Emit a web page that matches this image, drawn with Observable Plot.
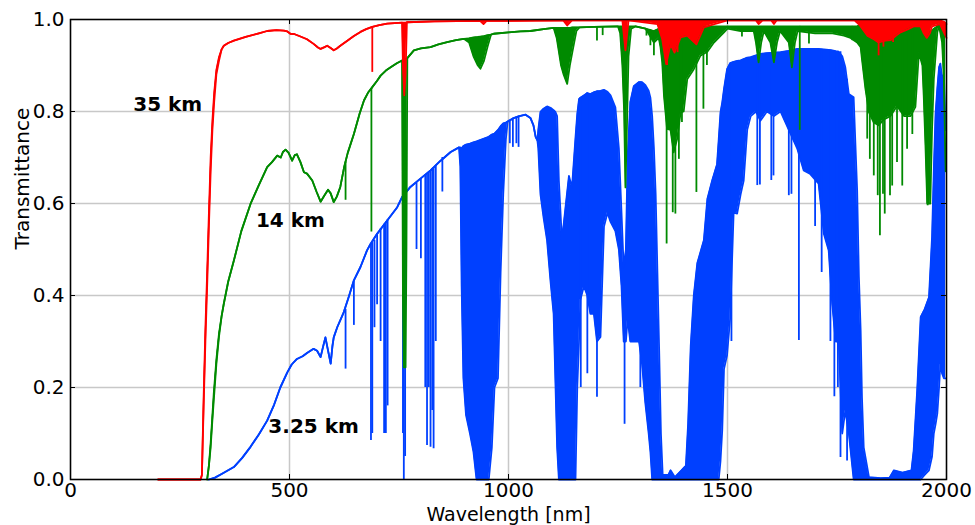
<!DOCTYPE html>
<html>
<head>
<meta charset="utf-8">
<script src="https://cdn.jsdelivr.net/npm/d3@7"></script>
<script src="https://cdn.jsdelivr.net/npm/@observablehq/plot@0.6"></script>
<style>
  html, body { margin: 0; padding: 0; background: #fff; }
</style>
</head>
<body>
<div id="chart"></div>
<script>
// ---- data: [wavelength nm, upper envelope, lower envelope] ----
const km35 = [
  [200,0,0],[297,0,0],[300,0.01,0.01],[304,0.18,0.16],[308,0.33,0.3],[312,0.45,0.42],[316,0.58,0.55],
  [320,0.70,0.67],[324,0.78,0.76],[328,0.84,0.82],[333,0.89,0.88],[339,0.918,0.91],[345,0.935,0.935],
  [350,0.943,0.943],[360,0.949,0.949],[373,0.954,0.954],[400,0.962,0.962],[430,0.970,0.970],
  [449,0.975,0.975],[470,0.977,0.977],[487,0.976,0.976],[495,0.974,0.974],[502,0.969,0.969],
  [512,0.968,0.968],[525,0.963,0.963],[540,0.957,0.957],[555,0.947,0.947],[565,0.939,0.939],
  [571,0.936,0.936],[580,0.940,0.940],[586,0.943,0.943],[594,0.938,0.938],[601,0.933,0.933],
  [608,0.937,0.937],[616,0.943,0.943],[632,0.954,0.954],[647,0.964,0.964],[662,0.973,0.973],
  [675,0.979,0.979],[689,0.984,0.984],[705,0.988,0.988],[723,0.991,0.991],[757,0.993,0.993],
  [759,0.993,0.90],[762,0.993,0.835],[765,0.993,0.88],[768,0.994,0.994],[830,0.996,0.996],
  [935,0.997,0.997],[943,0.997,0.99],[950,0.997,0.997],[1125,0.998,0.998],[1134,0.998,0.987],
  [1145,0.998,0.998],[1260,0.998,0.998],[1264,0.998,0.96],[1267,0.998,0.933],[1270,0.998,0.96],
  [1274,0.998,0.998],[1340,0.998,0.99],[1351,0.998,0.957],[1360,0.998,0.903],[1370,0.998,0.946],
  [1379,0.998,0.928],[1393,0.998,0.961],[1408,0.998,0.965],[1429,0.998,0.946],[1446,0.998,0.983],
  [1470,0.998,0.99],[1500,0.998,0.998],[1565,0.998,0.998],[1571,0.998,0.99],[1580,0.998,0.998],
  [1600,0.998,0.998],[1606,0.998,0.99],[1612,0.998,0.998],[1790,0.998,0.998],[1796,0.998,0.993],
  [1804,0.998,0.985],[1819,0.998,0.965],[1834,0.998,0.957],[1845,0.998,0.95],[1860,0.998,0.954],
  [1872,0.998,0.955],[1885,0.998,0.965],[1895,0.998,0.972],[1910,0.998,0.978],[1925,0.998,0.985],
  [1941,0.998,0.985],[1948,0.998,0.97],[1955,0.998,0.96],[1962,0.998,0.97],[1967,0.998,0.985],
  [1985,0.998,0.99],[1995,0.995,0.97],[2000,0.99,0.96]
];
const spikes35 = [
  [689,0.984,0.885],[1362,0.998,0.90],[1386,0.998,0.928],[1845,0.998,0.921],[1856,0.998,0.94],
  [1878,0.998,0.95]
];

const km14 = [
  [312,0,0],[316,0.03,0.03],[320,0.08,0.07],[324,0.14,0.13],[327,0.186,0.17],[333,0.26,0.25],
  [339,0.317,0.31],[345,0.355,0.355],[350,0.382,0.382],[360,0.43,0.43],[373,0.476,0.476],
  [390,0.54,0.54],[411,0.599,0.599],[430,0.64,0.64],[449,0.679,0.679],[460,0.69,0.69],
  [472,0.704,0.704],[480,0.70,0.70],[485,0.712,0.712],[491,0.717,0.717],[498,0.71,0.71],
  [506,0.693,0.693],[512,0.705,0.705],[517,0.707,0.707],[525,0.69,0.69],[533,0.668,0.668],
  [540,0.665,0.665],[552,0.65,0.65],[562,0.625,0.625],[571,0.604,0.604],[580,0.618,0.618],
  [588,0.63,0.63],[594,0.622,0.622],[601,0.603,0.603],[608,0.615,0.615],[616,0.636,0.636],
  [625,0.68,0.68],[633,0.71,0.71],[647,0.751,0.751],[660,0.795,0.795],[670,0.824,0.824],
  [680,0.842,0.842],[689,0.853,0.853],[700,0.867,0.867],[708,0.878,0.878],[720,0.889,0.889],
  [731,0.896,0.896],[745,0.905,0.905],[757,0.911,0.911],[759,0.912,0.40],[761,0.913,0.244],
  [765,0.914,0.244],[767,0.915,0.50],[769,0.916,0.916],[784,0.933,0.933],[800,0.937,0.937],
  [822,0.94,0.94],[840,0.946,0.946],[860,0.951,0.951],[880,0.955,0.955],[898,0.958,0.958],
  [910,0.959,0.95],[920,0.961,0.92],[930,0.962,0.90],[936,0.963,0.893],[944,0.964,0.91],
  [952,0.966,0.94],[960,0.967,0.967],[966,0.969,0.969],[1000,0.972,0.972],[1027,0.974,0.974],
  [1050,0.975,0.975],[1080,0.979,0.979],[1103,0.982,0.982],[1110,0.982,0.96],[1115,0.982,0.93],
  [1120,0.982,0.90],[1126,0.982,0.88],[1134,0.982,0.86],[1140,0.982,0.90],[1146,0.983,0.93],
  [1155,0.983,0.975],[1162,0.983,0.983],[1195,0.984,0.984],[1250,0.985,0.985],[1255,0.985,0.97],
  [1260,0.985,0.90],[1264,0.985,0.80],[1267,0.985,0.635],[1270,0.985,0.75],[1274,0.985,0.92],
  [1280,0.985,0.98],[1290,0.985,0.985],[1313,0.98,0.98],[1332,0.975,0.95],[1343,0.98,0.96],
  [1347,0.985,0.94],[1351,0.985,0.907],[1355,0.985,0.834],[1362,0.985,0.762],[1370,0.985,0.76],
  [1377,0.985,0.711],[1385,0.985,0.74],[1393,0.985,0.798],[1400,0.985,0.80],[1408,0.985,0.87],
  [1423,0.985,0.892],[1438,0.985,0.921],[1454,0.985,0.93],[1469,0.985,0.95],[1492,0.985,0.972],
  [1500,0.985,0.98],[1530,0.985,0.975],[1560,0.985,0.975],[1565,0.985,0.95],[1571,0.985,0.907],
  [1577,0.985,0.95],[1583,0.985,0.975],[1598,0.985,0.95],[1606,0.985,0.907],[1613,0.985,0.95],
  [1620,0.985,0.975],[1640,0.985,0.95],[1647,0.985,0.896],[1654,0.985,0.95],[1660,0.985,0.975],
  [1700,0.985,0.97],[1740,0.985,0.97],[1766,0.985,0.965],[1781,0.985,0.96],[1796,0.985,0.95],
  [1804,0.99,0.94],[1807,0.99,0.914],[1815,0.99,0.849],[1823,0.99,0.798],[1834,0.99,0.776],
  [1845,0.99,0.77],[1857,0.99,0.783],[1872,0.99,0.79],[1887,0.99,0.812],[1903,0.99,0.79],
  [1918,0.99,0.79],[1929,0.99,0.81],[1937,0.99,0.928],[1945,0.99,0.90],[1948,0.99,0.834],
  [1952,0.985,0.725],[1956,0.98,0.60],[1963,0.975,0.60],[1967,0.975,0.762],[1971,0.98,0.87],
  [1979,0.985,0.972],[1983,0.99,0.986],[1990,0.99,0.95],[1994,0.985,0.87],[1998,0.97,0.67]
];
const spikes14 = [
  [628,0.69,0.607],[687,0.85,0.538],[1202,0.984,0.953],[1215,0.984,0.965],[1315,0.98,0.964],
  [1324,0.978,0.943],[1332,0.975,0.921],[1361,0.985,0.512],[1375,0.985,0.58],[1381,0.985,0.577],
  [1389,0.985,0.696],[1396,0.985,0.776],[1429,0.985,0.624],[1445,0.985,0.805],[1453,0.985,0.90],
  [1533,0.985,0.962],[1665,0.985,0.759],[1686,0.985,0.947],[1785,0.985,0.954],[1819,0.99,0.74],
  [1825,0.99,0.696],[1834,0.99,0.66],[1843,0.99,0.617],[1848,0.99,0.53],[1855,0.99,0.62],
  [1859,0.99,0.577],[1871,0.99,0.617],[1876,0.99,0.638],[1887,0.99,0.689],[1899,0.99,0.638],
  [1910,0.99,0.718],[1922,0.99,0.75],[1957,0.98,0.595]
];

const km325 = [
  [316,0,0],[330,0.004,0.004],[345,0.012,0.012],[373,0.027,0.027],[392,0.047,0.047],
  [411,0.071,0.071],[430,0.098,0.098],[449,0.128,0.128],[465,0.163,0.163],[479,0.20,0.20],
  [495,0.233,0.233],[505,0.25,0.25],[517,0.262,0.262],[530,0.268,0.268],[540,0.275,0.275],
  [555,0.284,0.284],[563,0.28,0.28],[571,0.266,0.266],[577,0.29,0.29],[582,0.309,0.309],
  [588,0.28,0.28],[594,0.252,0.252],[598,0.29,0.29],[601,0.309,0.309],[609,0.331,0.331],
  [624,0.364,0.364],[635,0.396,0.396],[647,0.433,0.433],[662,0.462,0.462],[677,0.498,0.498],
  [685,0.512,0.512],[700,0.534,0.534],[723,0.563,0.563],[746,0.592,0.592],[757,0.614,0.614],
  [776,0.636,0.636],[799,0.654,0.654],[822,0.672,0.672],[845,0.693,0.693],[868,0.712,0.712],
  [887,0.722,0.722],[890,0.722,0.68],[893,0.72,0.42],[897,0.725,0.22],[903,0.728,0.14],
  [912,0.73,0.10],[920,0.733,0.06],[927,0.735,0],[955,0.745,0],[962,0.75,0.07],[968,0.752,0.20],
  [976,0.76,0.22],[982,0.768,0.45],[988,0.774,0.62],[994,0.776,0.74],[998,0.778,0.778],
  [1010,0.785,0.785],[1025,0.79,0.79],[1039,0.793,0.793],[1050,0.786,0.786],[1057,0.77,0.77],
  [1062,0.745,0.745],[1066,0.737,0.737],[1068,0.76,0.72],[1073,0.799,0.62],[1080,0.806,0.57],
  [1088,0.811,0.52],[1096,0.808,0.43],[1103,0.803,0.36],[1107,0.799,0.215],[1111,0.79,0.07],
  [1115,0.65,0],[1122,0.52,0],[1130,0.59,0],[1138,0.66,0],[1145,0.635,0],[1153,0.744,0],
  [1157,0.795,0.20],[1161,0.827,0.30],[1164,0.83,0.39],[1172,0.835,0.42],[1180,0.84,0.40],
  [1187,0.838,0.36],[1195,0.842,0.36],[1202,0.844,0.30],[1210,0.845,0.31],[1218,0.847,0.55],
  [1226,0.843,0.58],[1233,0.835,0.56],[1244,0.809,0.54],[1252,0.72,0.50],[1258,0.58,0.42],
  [1263,0.46,0.30],[1268,0.50,0.30],[1272,0.70,0.35],[1278,0.82,0.30],[1286,0.855,0.30],
  [1298,0.864,0.30],[1305,0.864,0.25],[1312,0.858,0.17],[1320,0.845,0.10],[1324,0.83,0.06],
  [1328,0.79,0],[1332,0.72,0],[1336,0.62,0],[1340,0.45,0],[1344,0.28,0],[1348,0.10,0],
  [1352,0.01,0],[1365,0.01,0],[1370,0.02,0],[1380,0.005,0],[1395,0.02,0],[1405,0.03,0],
  [1410,0.12,0],[1416,0.29,0],[1423,0.40,0],[1431,0.47,0],[1446,0.52,0],[1454,0.61,0],
  [1465,0.65,0],[1476,0.685,0],[1480,0.74,0],[1484,0.798,0.04],[1488,0.82,0.107],
  [1492,0.849,0.24],[1499,0.892,0.27],[1506,0.905,0.35],[1514,0.908,0.58],[1522,0.91,0.578],
  [1530,0.911,0.62],[1537,0.914,0.65],[1545,0.917,0.76],[1553,0.918,0.79],[1565,0.922,0.80],
  [1575,0.925,0.78],[1590,0.927,0.80],[1606,0.928,0.79],[1621,0.929,0.80],[1640,0.932,0.76],
  [1659,0.936,0.72],[1674,0.936,0.672],[1689,0.936,0.664],[1708,0.936,0.643],[1720,0.935,0.534],
  [1731,0.934,0.498],[1739,0.933,0.382],[1747,0.931,0.30],[1754,0.93,0.30],[1762,0.92,0.10],
  [1769,0.896,0.15],[1777,0.838,0.10],[1788,0.831,0],[1796,0.628,0],[1800,0.44,0],
  [1804,0.324,0],[1807,0.179,0],[1811,0.07,0],[1823,0.005,0],[1850,0.003,0],[1870,0.004,0],
  [1880,0.02,0],[1900,0.015,0],[1920,0.02,0],[1925,0.063,0],[1933,0.193,0],[1941,0.353,0],
  [1950,0.37,0.01],[1960,0.396,0.02],[1967,0.527,0.05],[1971,0.672,0.10],[1975,0.795,0.12],
  [1979,0.85,0.143],[1983,0.896,0.20],[1986,0.904,0.251],[1990,0.875,0.23],[1994,0.88,0.22],
  [1998,0.76,0.22]
];
const spikes325 = [
  [628,0.37,0.24],[647,0.43,0.335],[686,0.512,0.085],[689,0.515,0.10],[694,0.52,0.33],
  [700,0.534,0.38],[708,0.545,0.30],[716,0.555,0.10],[720,0.56,0.10],[724,0.565,0.16],
  [759,0.614,0.10],[761,0.614,0],[764,0.616,0.05],[790,0.645,0.50],[800,0.654,0.48],
  [810,0.662,0.20],[814,0.665,0.074],[818,0.668,0.20],[822,0.672,0.07],[826,0.675,0.15],
  [829,0.678,0.067],[834,0.683,0.30],[849,0.70,0.625],[1003,0.78,0.73],[1010,0.785,0.722],
  [1018,0.788,0.73],[1023,0.79,0.722],[1165,0.83,0.20],[1180,0.84,0.23],[1202,0.844,0.179],
  [1265,0.46,0.12],[1301,0.864,0.20],[1509,0.905,0.30],[1568,0.922,0.639],[1574,0.924,0.64],
  [1600,0.927,0.65],[1605,0.928,0.66],[1640,0.932,0.617],[1646,0.933,0.62],[1663,0.936,0.302],
  [1700,0.936,0.55],[1715,0.935,0.45],[1735,0.933,0.30],[1744,0.932,0.18],[1752,0.93,0.20],
  [1758,0.93,0.048],[1773,0.87,0.04]
];

const xTicks = [0, 500, 1000, 1500, 2000];
const yTicks = [0, 0.2, 0.4, 0.6, 0.8, 1.0];
const annotations = [
  {label: "35 km", wl: 222, t: 0.815},
  {label: "14 km", wl: 502, t: 0.563},
  {label: "3.25 km", wl: 555, t: 0.116}
];

const colors = {km35: "#ff0000", km14: "#008a00", km325: "#0040ff"};

function seriesMarks(data, spikes, color) {
  return [
    Plot.areaY(data, {x: d => d[0], y1: d => d[2], y2: d => d[1], fill: color}),
    Plot.line(data, {x: d => d[0], y: d => d[1], stroke: color, strokeWidth: 1.8}),
    Plot.line(data, {x: d => d[0], y: d => d[2], stroke: color, strokeWidth: 1.8}),
    Plot.ruleX(spikes, {x: d => d[0], y1: d => d[2], y2: d => d[1], stroke: color, strokeWidth: 1.8})
  ];
}

const W = 975, H = 525, mL = 70, mR = 29, mT = 19, mB = 46;
const plotW = W - mL - mR, plotH = H - mT - mB;

const chart = Plot.plot({
  width: W, height: H,
  marginLeft: mL, marginRight: mR, marginTop: mT, marginBottom: mB,
  x: {domain: [0, 2000], label: null},
  y: {domain: [0, 1], label: null},
  style: {fontFamily: "DejaVu Sans", fontSize: "20px", background: "white", color: "black", overflow: "visible"},
  marks: [
    Plot.gridX(xTicks, {stroke: "#c8c8c8", strokeOpacity: 1, strokeWidth: 1.5}),
    Plot.gridY(yTicks, {stroke: "#c8c8c8", strokeOpacity: 1, strokeWidth: 1.5}),
    ...seriesMarks(km325, spikes325, colors.km325),
    ...seriesMarks(km14, spikes14, colors.km14),
    ...seriesMarks(km35, spikes35, colors.km35),
    Plot.ruleX(xTicks, {stroke: "black", strokeWidth: 1, insetTop: plotH - 5}),
    Plot.ruleX(xTicks, {stroke: "black", strokeWidth: 1, insetBottom: plotH - 5}),
    Plot.ruleY(yTicks, {stroke: "black", strokeWidth: 1, insetRight: plotW - 5}),
    Plot.ruleY(yTicks, {stroke: "black", strokeWidth: 1, insetLeft: plotW - 5}),
    Plot.frame({stroke: "black", strokeWidth: 1.5}),
    Plot.axisX(xTicks, {tickSize: 0, tickPadding: 3, fontSize: 20, tickFormat: d => String(d)}),
    Plot.axisY(yTicks, {tickSize: 0, tickPadding: 6, fontSize: 20, tickFormat: d3.format(".1f")}),
    Plot.text(annotations, {x: "wl", y: "t", text: "label", fontWeight: "bold", fontSize: 20, fill: "black"}),
    Plot.text(["Transmittance"], {frameAnchor: "left", dx: -48, rotate: -90, fontSize: 20, fill: "black"}),
    Plot.text(["Wavelength [nm]"], {frameAnchor: "bottom", dy: 35, fontSize: 19, fill: "black", lineAnchor: "middle"})
  ]
});
document.getElementById("chart").appendChild(chart);
</script>
</body>
</html>
